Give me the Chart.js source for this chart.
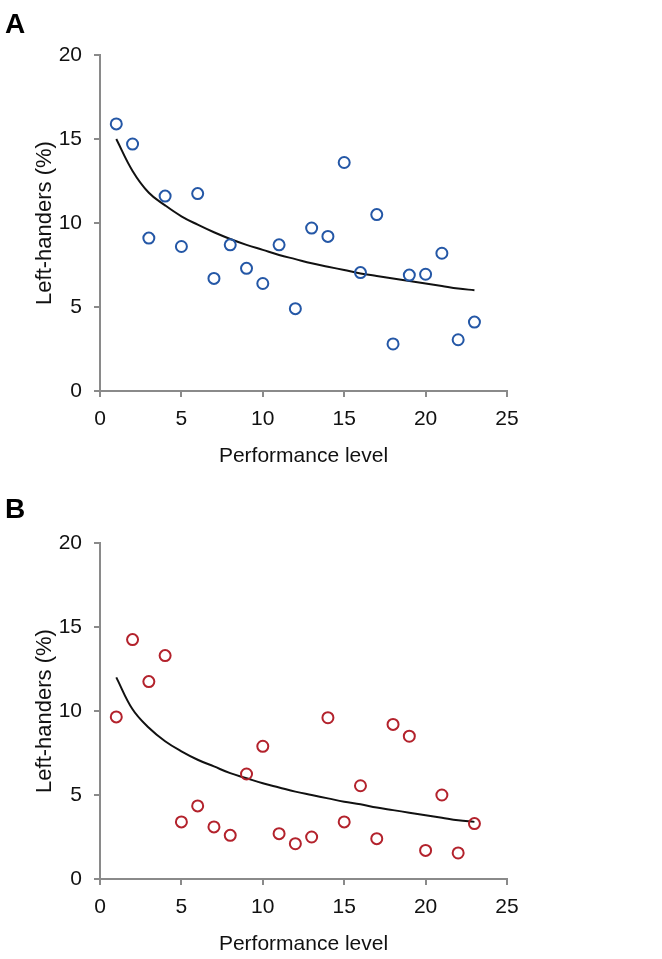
<!DOCTYPE html>
<html>
<head>
<meta charset="utf-8">
<script src="https://cdn.jsdelivr.net/npm/chart.js@4"></script>
<style>
  body { margin: 0; background: #fff; }
  .panel { position: absolute; left: 0; width: 662px; }
  .tag { position: absolute; left: 5px; font: bold 28px "Liberation Sans", Arial, sans-serif; color: #000; }
</style>
</head>
<body>
<div class="panel" style="top:0;height:480px"><canvas id="chartA" width="662" height="480"></canvas></div>
<div class="tag" style="top:8px">A</div>
<div class="panel" style="top:480px;height:479px"><canvas id="chartB" width="662" height="479"></canvas></div>
<div class="tag" style="top:493px">B</div>
<script>
// performance level 1..23
const levels = [1, 2, 3, 4, 5, 6, 7, 8, 9, 10, 11, 12, 13, 14, 15, 16, 17, 18, 19, 20, 21, 22, 23];

// panel A - observed % left-handers
const valuesA = [15.9, 14.7, 9.1, 11.6, 8.6, 11.75, 6.7, 8.7, 7.3, 6.4, 8.7, 4.9, 9.7, 9.2, 13.6, 7.05, 10.5, 2.8, 6.9, 6.95, 8.2, 3.05, 4.1];
// panel A - trend curve
const trendA = [15.0, 13.1, 11.8, 11.05, 10.4, 9.9, 9.45, 9.05, 8.7, 8.4, 8.1, 7.85, 7.6, 7.4, 7.2, 7.0, 6.85, 6.7, 6.55, 6.4, 6.25, 6.1, 6.0];

// panel B
const valuesB = [9.65, 14.25, 11.75, 13.3, 3.4, 4.35, 3.1, 2.6, 6.25, 7.9, 2.7, 2.1, 2.5, 9.6, 3.4, 5.55, 2.4, 9.2, 8.5, 1.7, 5.0, 1.55, 3.3];
const trendB = [12.0, 10.1, 9.0, 8.2, 7.6, 7.1, 6.7, 6.3, 6.0, 5.7, 5.45, 5.2, 5.0, 4.8, 4.6, 4.45, 4.25, 4.1, 3.95, 3.8, 3.65, 3.5, 3.4];

const xTicks = [0, 5, 10, 15, 20, 25];
const yTicks = [0, 5, 10, 15, 20];

const FONT = "'Liberation Sans', Arial, sans-serif";
const AXIS = '#8a8a8a';

function makeChart(id, values, trend, color, topPad, bottomPad) {
    const pts = levels.map((x, i) => ({ x: x, y: values[i] }));
    const curve = levels.map((x, i) => ({ x: x, y: trend[i] }));
    new Chart(document.getElementById(id), {
        type: 'scatter',
        data: {
            datasets: [
                {
                    type: 'line',
                    data: curve,
                    borderColor: '#111',
                    borderWidth: 2,
                    pointRadius: 0,
                    tension: 0.4,
                    fill: false,
                    order: 2
                },
                {
                    data: pts,
                    pointRadius: 5.5,
                    pointBorderWidth: 2,
                    pointBackgroundColor: 'rgba(255,255,255,0)',
                    pointBorderColor: color,
                    order: 1
                }
            ]
        },
        options: {
            responsive: false,
            animation: false,
            layout: { padding: { left: 0, right: 155, top: topPad, bottom: bottomPad } },
            plugins: { legend: { display: false }, tooltip: { enabled: false } },
            scales: {
                x: {
                    type: 'linear',
                    min: 0, max: 25,
                    afterBuildTicks: s => { s.ticks = xTicks.map(v => ({ value: v })); },
                    afterFit: s => { s.height = 80; },
                    grid: { drawOnChartArea: false, drawTicks: true, tickLength: 6, color: AXIS, lineWidth: 2 },
                    border: { display: true, color: AXIS, width: 2 },
                    ticks: { color: '#111', padding: 10, font: { family: FONT, size: 21 } },
                    title: {
                        display: true,
                        text: 'Performance level',
                        color: '#111',
                        padding: { top: 0, bottom: 2 },
                        font: { family: FONT, size: 21 }
                    }
                },
                y: {
                    min: 0, max: 20,
                    afterBuildTicks: s => { s.ticks = yTicks.map(v => ({ value: v })); },
                    afterFit: s => { s.width = 100; },
                    grid: { drawOnChartArea: false, drawTicks: true, tickLength: 6, color: AXIS, lineWidth: 2 },
                    border: { display: true, color: AXIS, width: 2 },
                    ticks: { color: '#111', padding: 12, font: { family: FONT, size: 21 } },
                    title: {
                        display: true,
                        text: 'Left-handers (%)',
                        color: '#111',
                        padding: { top: 32, bottom: 0 },
                        font: { family: FONT, size: 22 }
                    }
                }
            }
        }
    });
}

makeChart('chartA', valuesA, trendA, '#2457a6', 55, 9);
makeChart('chartB', valuesB, trendB, '#b3222c', 63, 0);
</script>
</body>
</html>
